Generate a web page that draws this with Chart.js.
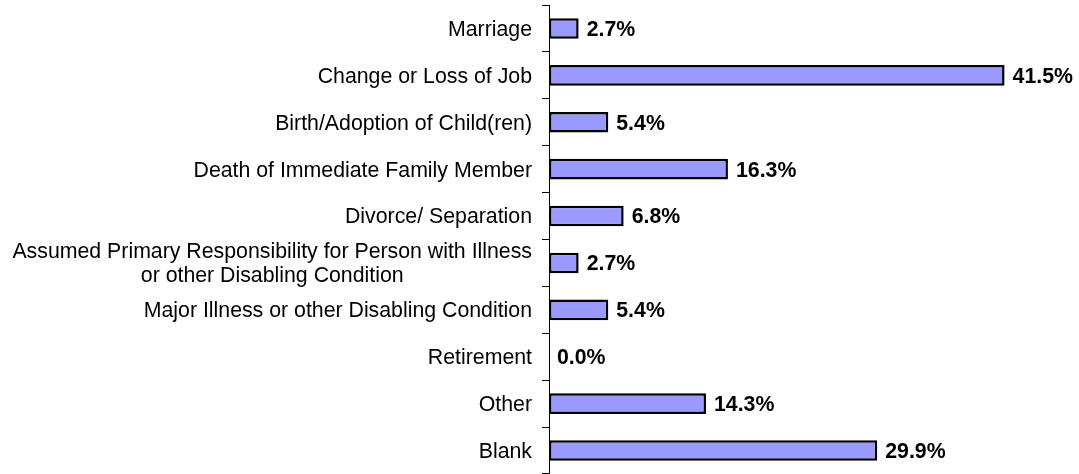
<!DOCTYPE html>
<html>
<head>
<meta charset="utf-8">
<script src="https://cdn.jsdelivr.net/npm/chart.js@4/dist/chart.umd.min.js"></script>
<style>
  html, body { margin: 0; padding: 0; background: #fff; }
  #wrap { width: 1079px; height: 474px; }
</style>
</head>
<body>
<div id="wrap"><canvas id="razoesChart"></canvas></div>
<script>
const categorias = [
    'Marriage',
    'Change or Loss of Job',
    'Birth/Adoption of Child(ren)',
    'Death of Immediate Family Member',
    'Divorce/ Separation',
    ['Assumed Primary Responsibility for Person with Illness', 'or other Disabling Condition'],
    'Major Illness or other Disabling Condition',
    'Retirement',
    'Other',
    'Blank'
];
const percentuais = [2.7, 41.5, 5.4, 16.3, 6.8, 2.7, 5.4, 0.0, 14.3, 29.9];

const fonteRotulo = '21.3px Arial, "Liberation Sans", sans-serif';
const fonteValor = 'bold 21.3px Arial, "Liberation Sans", sans-serif';

// desenha os nomes das categorias (linhas centradas entre si, bloco alinhado a direita)
const rotulosCategorias = {
    id: 'rotulosCategorias',
    afterDraw(chart) {
        const ctx = chart.ctx;
        const eixoY = chart.scales.y;
        const direita = eixoY.right - 17;
        ctx.save();
        ctx.font = fonteRotulo;
        ctx.fillStyle = '#000';
        ctx.textBaseline = 'middle';
        ctx.textAlign = 'center';
        categorias.forEach((cat, i) => {
            const linhas = Array.isArray(cat) ? cat : [cat];
            let largura = 0;
            linhas.forEach(l => { largura = Math.max(largura, ctx.measureText(l).width); });
            const centroX = direita - largura / 2;
            const yCentro = eixoY.getPixelForTick(i) + 1.5;
            const alturaLinha = 24;
            const inicio = yCentro - (linhas.length - 1) * alturaLinha / 2;
            linhas.forEach((l, j) => ctx.fillText(l, centroX, inicio + j * alturaLinha));
        });
        ctx.restore();
    }
};

// valores em negrito depois de cada barra
const rotulosValores = {
    id: 'rotulosValores',
    afterDatasetsDraw(chart) {
        const ctx = chart.ctx;
        const meta = chart.getDatasetMeta(0);
        ctx.save();
        ctx.font = fonteValor;
        ctx.fillStyle = '#000';
        ctx.textBaseline = 'middle';
        ctx.textAlign = 'left';
        meta.data.forEach((barra, i) => {
            ctx.fillText(percentuais[i].toFixed(1) + '%', barra.x + 8, barra.y + 1.5);
        });
        ctx.restore();
    }
};

const dados = {
    labels: categorias,
    datasets: [{
        data: percentuais,
        backgroundColor: '#9999FF',
        borderColor: '#000000',
        borderWidth: 2.5,
        borderSkipped: false,
        categoryPercentage: 1,
        barPercentage: 0.44
    }]
};

const config = {
    type: 'bar',
    data: dados,
    options: {
        indexAxis: 'y',
        responsive: true,
        maintainAspectRatio: false,
        animation: false,
        layout: { padding: { top: 5, right: 36, bottom: 0, left: 0 } },
        plugins: {
            legend: { display: false },
            tooltip: { enabled: false }
        },
        scales: {
            x: {
                display: false,
                min: 0,
                max: 45
            },
            y: {
                ticks: { display: false },
                grid: {
                    offset: true,
                    drawOnChartArea: false,
                    drawTicks: true,
                    tickLength: 7,
                    color: '#000',
                    lineWidth: 1
                },
                border: { display: true, color: '#000', width: 1 },
                afterFit(scale) { scale.width = 549; }
            }
        }
    },
    plugins: [rotulosCategorias, rotulosValores]
};

const ctx = document.getElementById('razoesChart').getContext('2d');
const grafico = new Chart(ctx, config);
</script>
</body>
</html>
